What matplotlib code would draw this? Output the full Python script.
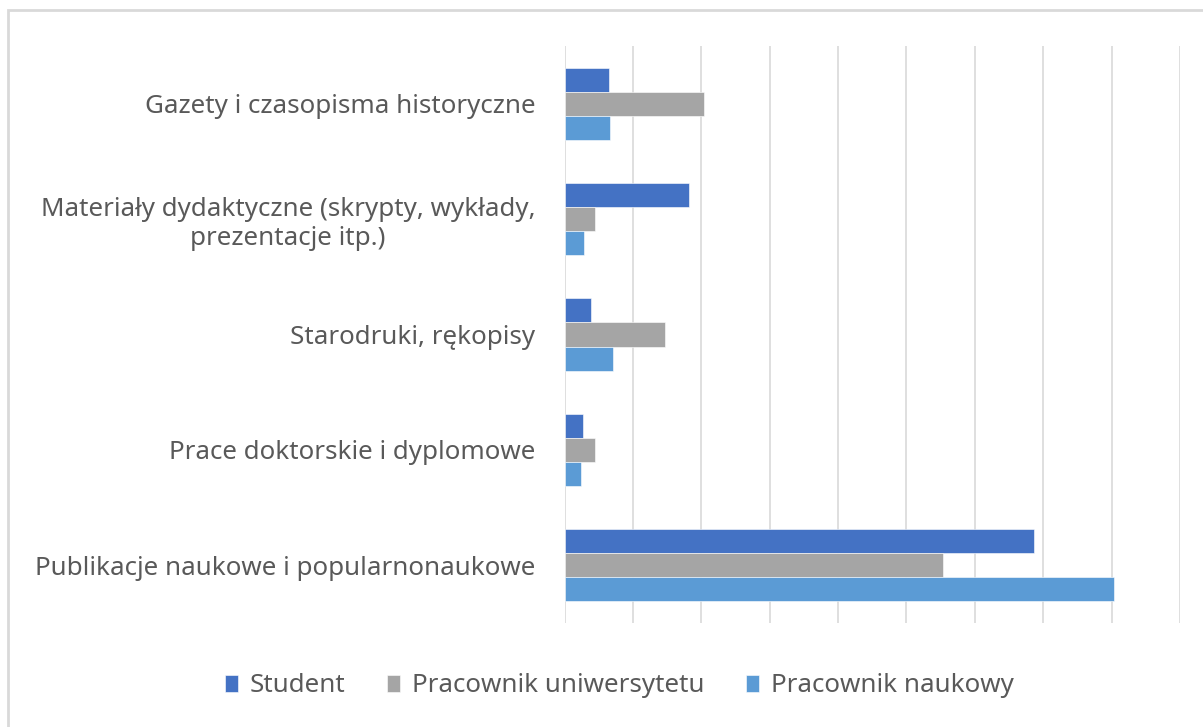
import numpy as np
import matplotlib.pyplot as plt
from matplotlib.patches import Rectangle

categories = ["Gazety i czasopisma historyczne",
              "Materiały dydaktyczne (skrypty, wykłady,\nprezentacje itp.)",
              "Starodruki, rękopisy",
              "Prace doktorskie i dyplomowe",
              "Publikacje naukowe i popularnonaukowe"]
series = ["Student", "Pracownik uniwersytetu", "Pracownik naukowy"]
student = [6.5, 18.2, 3.8, 2.7, 68.6]
uniwersytet = [20.4, 4.5, 14.7, 4.5, 55.4]
naukowy = [6.6, 2.9, 7.1, 2.4, 80.4]
colors = ["#4472C4", "#A5A5A5", "#5B9BD5"]

plt.rcParams['font.family'] = ['Noto Sans', 'DejaVu Sans']

fig = plt.figure(figsize=(12.03, 7.27), dpi=100)
ax = fig.add_axes([564.6 / 1203, 1 - 623 / 727, (1180 - 564.6) / 1203, (623 - 46) / 727])

# outer chart border (cropped at right and bottom in the original)
fig.patches.append(Rectangle((8 / 1203, -0.1), 1.2, 1 - 10 / 727 + 0.1,
                             transform=fig.transFigure, fill=False,
                             edgecolor="#d9d9d9", lw=2))

y = np.arange(len(categories))
h = 0.209
for i, (vals, name) in enumerate(zip([student, uniwersytet, naukowy], series)):
    ax.barh(y + (i - 1) * h, vals, height=h, color=colors[i], label=name,
            edgecolor="white", linewidth=0.4, zorder=3)

ax.set_ylim(len(categories) - 0.5, -0.5)
ax.set_xlim(0, 90)
ax.set_xticks(np.arange(0, 91, 10))
ax.set_xticklabels([])
ax.grid(axis="x", color="#d9d9d9", lw=1.2, zorder=0)
for s in ax.spines.values():
    s.set_visible(False)
ax.tick_params(length=0)
ax.tick_params(axis="y", pad=21)
ax.set_yticks(y)
ax.set_yticklabels(categories, fontsize=18.7, color="#595959")
for t in ax.get_yticklabels():
    t.set_multialignment("center")

leg = fig.legend(loc="center", bbox_to_anchor=(0.515, 1 - 686 / 727), ncol=3,
                 frameon=False, fontsize=18.7, handlelength=0.5, handleheight=0.65,
                 handletextpad=0.45, columnspacing=1.6, labelcolor="#595959")

fig.savefig("out.png", dpi=100)
